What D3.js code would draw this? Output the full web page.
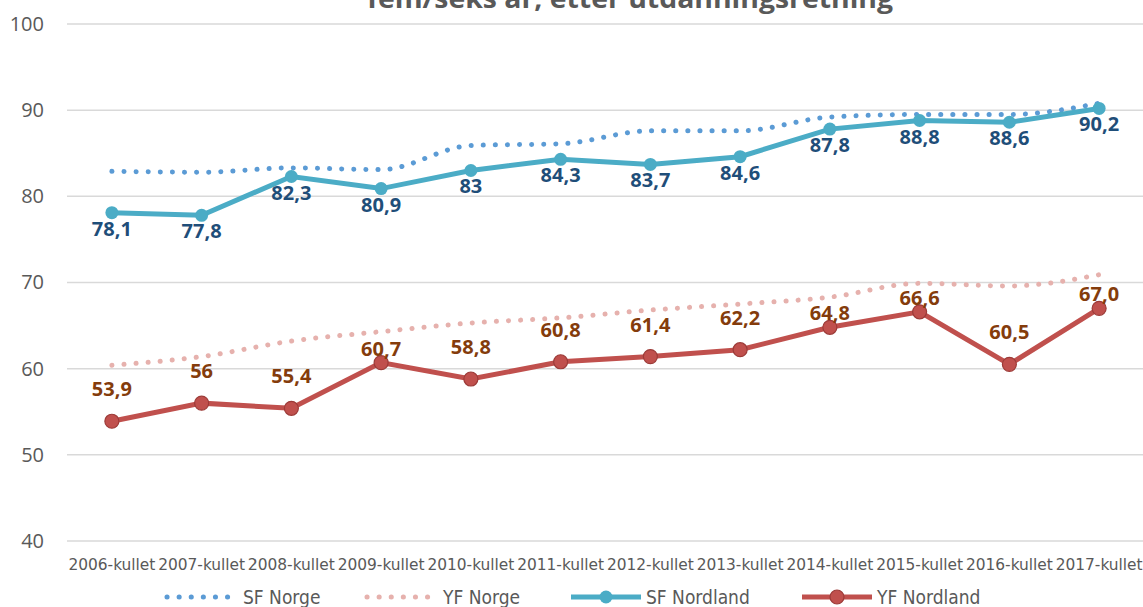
<!DOCTYPE html>
<html>
<head>
<meta charset="utf-8">
<script src="https://cdn.jsdelivr.net/npm/d3@7"></script>
<style>
  body { margin: 0; background: #fff; }
  svg { display: block; }
  .tick text { fill: #595959; }
</style>
</head>
<body>
<div id="vis"></div>
<script>
// Categories (x axis)
const cohorts = ['2006-kullet', '2007-kullet', '2008-kullet', '2009-kullet', '2010-kullet', '2011-kullet',
                 '2012-kullet', '2013-kullet', '2014-kullet', '2015-kullet', '2016-kullet', '2017-kullet'];

// Series values
const sfNorge = [82.9, 82.8, 83.3, 83.1, 85.9, 86.1, 87.6, 87.6, 89.2, 89.5, 89.5, 90.8];
const yfNorge = [60.4, 61.4, 63.2, 64.3, 65.3, 65.9, 66.8, 67.5, 68.3, 69.9, 69.6, 70.9];
const sfNordland = [78.1, 77.8, 82.3, 80.9, 83, 84.3, 83.7, 84.6, 87.8, 88.8, 88.6, 90.2];
const yfNordland = [53.9, 56, 55.4, 60.7, 58.8, 60.8, 61.4, 62.2, 64.8, 66.6, 60.5, 67.0];

// Data labels as printed
const sfNordlandLabels = ['78,1', '77,8', '82,3', '80,9', '83', '84,3', '83,7', '84,6', '87,8', '88,8', '88,6', '90,2'];
const yfNordlandLabels = ['53,9', '56', '55,4', '60,7', '58,8', '60,8', '61,4', '62,2', '64,8', '66,6', '60,5', '67,0'];

// Y tick labels
const yTicks = [40, 50, 60, 70, 80, 90, 100];

const titleText = 'fem/seks år, etter utdanningsretning';

// YF labels that sit closer to their marker
const yfCloseLabels = ['2009-kullet', '2014-kullet', '2015-kullet', '2017-kullet'];

const width = 1143;
const height = 607;
const margin = { top: 24, right: -1, bottom: 66, left: 67 };

const svg = d3.select('#vis')
    .append('svg')
    .attr('width', width)
    .attr('height', height);

// Scales
const xScale = d3.scaleBand()
    .domain(cohorts)
    .range([margin.left, width - margin.right])
    .padding(0);

const yScale = d3.scaleLinear()
    .domain([40, 100])
    .range([height - margin.bottom, margin.top]);

const cx = d => xScale(d) + xScale.bandwidth() / 2;

// Title (only the bottom line is inside the frame)
svg.append('text')
    .attr('x', 630)
    .attr('y', 8)
    .attr('text-anchor', 'middle')
    .attr('font-family', 'Open Sans, sans-serif')
    .attr('font-weight', 'bold')
    .attr('font-size', 26)
    .attr('fill', '#595959')
    .attr('textLength', 526)
    .attr('lengthAdjust', 'spacingAndGlyphs')
    .text(titleText);

// Gridlines
svg.append('g')
    .selectAll('line')
    .data(yTicks)
    .join('line')
    .attr('x1', margin.left)
    .attr('x2', width)
    .attr('y1', d => yScale(d))
    .attr('y2', d => yScale(d))
    .attr('stroke', '#d9d9d9')
    .attr('stroke-width', 1.5);

// Y axis
const yAxis = d3.axisLeft(yScale).tickValues(yTicks).tickSize(0).tickPadding(0);
svg.append('g')
    .attr('transform', `translate(44,0)`)
    .call(yAxis)
    .call(g => g.select('.domain').remove())
    .selectAll('text')
    .attr('font-family', 'Open Sans, sans-serif')
    .attr('font-size', 20);

// X axis
const xAxis = d3.axisBottom(xScale).tickSize(0).tickPadding(0);
svg.append('g')
    .attr('transform', `translate(0,${height - margin.bottom + 18})`)
    .call(xAxis)
    .call(g => g.select('.domain').remove())
    .selectAll('text')
    .attr('font-family', 'Liberation Sans Narrow, DejaVu Sans Condensed, sans-serif')
    .attr('font-size', 15.5)
    .attr('textLength', 87)
    .attr('lengthAdjust', 'spacingAndGlyphs');

// Line generators
const smooth = d3.line()
    .x((d, i) => cx(cohorts[i]))
    .y(d => yScale(d))
    .curve(d3.curveMonotoneX);

const straight = d3.line()
    .x((d, i) => cx(cohorts[i]))
    .y(d => yScale(d));

// Dotted Norway series
svg.append('path')
    .datum(yfNorge)
    .attr('d', smooth)
    .attr('fill', 'none')
    .attr('stroke', '#e6b1ad')
    .attr('stroke-width', 5)
    .attr('stroke-linecap', 'round')
    .attr('stroke-dasharray', '0.1 12');

svg.append('path')
    .datum(sfNorge)
    .attr('d', smooth)
    .attr('fill', 'none')
    .attr('stroke', '#5b9bd5')
    .attr('stroke-width', 5)
    .attr('stroke-linecap', 'round')
    .attr('stroke-dasharray', '0.1 12');

// Nordland series
svg.append('path')
    .datum(sfNordland)
    .attr('d', straight)
    .attr('fill', 'none')
    .attr('stroke', '#4bacc6')
    .attr('stroke-width', 5);

svg.append('g')
    .selectAll('circle')
    .data(sfNordland)
    .join('circle')
    .attr('cx', (d, i) => cx(cohorts[i]))
    .attr('cy', d => yScale(d))
    .attr('r', 6.5)
    .attr('fill', '#4bacc6');

svg.append('path')
    .datum(yfNordland)
    .attr('d', straight)
    .attr('fill', 'none')
    .attr('stroke', '#c0504d')
    .attr('stroke-width', 5);

svg.append('g')
    .selectAll('circle')
    .data(yfNordland)
    .join('circle')
    .attr('cx', (d, i) => cx(cohorts[i]))
    .attr('cy', d => yScale(d))
    .attr('r', 7)
    .attr('fill', '#c0504d')
    .attr('stroke', '#9c3b38')
    .attr('stroke-width', 1.2);

// Data labels
svg.append('g')
    .selectAll('text')
    .data(sfNordland)
    .join('text')
    .attr('x', (d, i) => cx(cohorts[i]))
    .attr('y', d => yScale(d) + 23)
    .attr('text-anchor', 'middle')
    .attr('font-family', 'Open Sans, sans-serif')
    .attr('font-weight', 'bold')
    .attr('font-size', 20)
    .attr('fill', '#1f4e79')
    .text((d, i) => sfNordlandLabels[i]);

svg.append('g')
    .selectAll('text')
    .data(yfNordland)
    .join('text')
    .attr('x', (d, i) => cx(cohorts[i]))
    .attr('y', (d, i) => yScale(d) - (yfCloseLabels.includes(cohorts[i]) ? 7 : 25))
    .attr('text-anchor', 'middle')
    .attr('font-family', 'Open Sans, sans-serif')
    .attr('font-weight', 'bold')
    .attr('font-size', 20)
    .attr('fill', '#843c0c')
    .text((d, i) => yfNordlandLabels[i]);

// Legend
const legendY = 597;
const legendItems = [
    { name: 'SF Norge', x: 167, type: 'dot', color: '#5b9bd5' },
    { name: 'YF Norge', x: 367, type: 'dot', color: '#e6b1ad' },
    { name: 'SF Nordland', x: 571, type: 'line', color: '#4bacc6', stroke: 'none', r: 6.5 },
    { name: 'YF Nordland', x: 802, type: 'line', color: '#c0504d', stroke: '#9c3b38', r: 7 }
];

const legend = svg.append('g');
legendItems.forEach(item => {
    const g = legend.append('g').attr('transform', `translate(${item.x},${legendY})`);
    if (item.type === 'dot') {
        g.append('line')
            .attr('x1', 0).attr('x2', 62)
            .attr('stroke', item.color)
            .attr('stroke-width', 5)
            .attr('stroke-linecap', 'round')
            .attr('stroke-dasharray', '0.1 12');
    } else {
        g.append('line')
            .attr('x1', 0).attr('x2', 70)
            .attr('stroke', item.color)
            .attr('stroke-width', 5);
        g.append('circle')
            .attr('cx', 35)
            .attr('r', item.r)
            .attr('fill', item.color)
            .attr('stroke', item.stroke)
            .attr('stroke-width', 1.2);
    }
    g.append('text')
        .attr('x', item.type === 'dot' ? 76 : 75)
        .attr('dy', '0.35em')
        .attr('font-family', 'Liberation Sans Narrow, DejaVu Sans Condensed, sans-serif')
        .attr('font-size', 19)
        .attr('fill', '#595959')
        .text(item.name);
});
</script>
</body>
</html>
